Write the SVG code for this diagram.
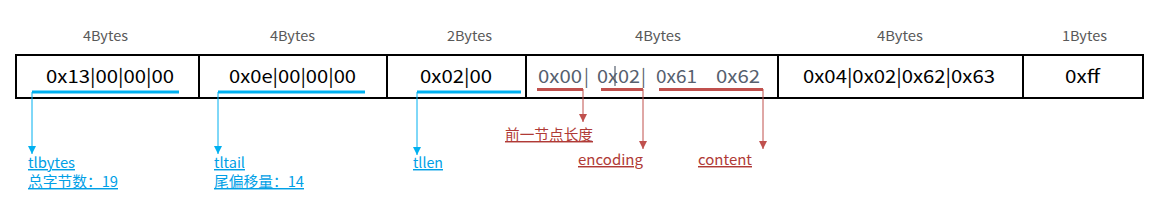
<svg xmlns="http://www.w3.org/2000/svg" width="1165" height="202" viewBox="0 0 1165 202">
<style>
.hdr{font-family:"Noto Sans CJK SC","Noto Sans",sans-serif;font-size:13.5px;fill:#595959}
.cell{font-family:"Noto Sans CJK SC","Noto Sans",sans-serif;font-size:18px;fill:#000}
.gray{font-family:"Noto Sans CJK SC","Noto Sans",sans-serif;font-size:18px;fill:#56606e}
.box{fill:#fff;stroke:#000;stroke-width:2}
.bl{stroke:#00B0F0;stroke-width:3;fill:none}
.rl{stroke:#C0504D;stroke-width:3;fill:none}
.ba{stroke:#00B0F0;stroke-width:1;fill:none}
.ra{stroke:#C0504D;stroke-width:1;fill:none}
.btxt{font-family:"Noto Sans CJK SC","Noto Sans",sans-serif;font-size:14.5px;fill:#00A0E6;text-decoration:underline}
.rtxt{font-family:"Noto Sans CJK SC","Noto Sans",sans-serif;font-size:14.5px;fill:#B03A36;text-decoration:underline}
</style>
<defs>
<marker id="ab" markerUnits="userSpaceOnUse" markerWidth="10" markerHeight="10" refX="8" refY="4" orient="auto"><path d="M0,0 L8,4 L0,8 z" fill="#00B0F0"/></marker>
<marker id="ar" markerUnits="userSpaceOnUse" markerWidth="10" markerHeight="10" refX="8" refY="4" orient="auto"><path d="M0,0 L8,4 L0,8 z" fill="#C0504D"/></marker>
</defs>
<rect width="1165" height="202" fill="#fff"/>
<g id="headers">
<text class="hdr" x="83" y="41" textLength="45" lengthAdjust="spacingAndGlyphs">4Bytes</text>
<text class="hdr" x="270" y="41" textLength="45" lengthAdjust="spacingAndGlyphs">4Bytes</text>
<text class="hdr" x="447" y="41" textLength="45" lengthAdjust="spacingAndGlyphs">2Bytes</text>
<text class="hdr" x="635" y="41" textLength="46" lengthAdjust="spacingAndGlyphs">4Bytes</text>
<text class="hdr" x="877" y="41" textLength="46" lengthAdjust="spacingAndGlyphs">4Bytes</text>
<text class="hdr" x="1062" y="41" textLength="45" lengthAdjust="spacingAndGlyphs">1Bytes</text>
</g>
<g id="tlbytes-cell"><rect class="box" x="16" y="55" width="183" height="43"/><text class="cell" x="46" y="83" textLength="128" lengthAdjust="spacingAndGlyphs">0x13|00|00|00</text></g>
<g id="tltail-cell"><rect class="box" x="199" y="55" width="188" height="43"/><text class="cell" x="229" y="83" textLength="127" lengthAdjust="spacingAndGlyphs">0x0e|00|00|00</text></g>
<g id="tllen-cell"><rect class="box" x="387" y="55" width="139" height="43"/><text class="cell" x="420" y="83" textLength="72" lengthAdjust="spacingAndGlyphs">0x02|00</text></g>
<g id="entry1-cell"><rect class="box" x="526" y="55" width="252" height="43"/>
<text class="gray" x="538" y="83" textLength="44" lengthAdjust="spacingAndGlyphs">0x00</text>
<text class="gray" x="584" y="83">|</text>
<text class="gray" x="597" y="83" textLength="43" lengthAdjust="spacingAndGlyphs">0x02</text>
<line x1="615" y1="66" x2="615" y2="86" stroke="#56606e" stroke-width="1.2"/>
<text class="gray" x="641" y="83">|</text>
<text class="gray" x="656" y="83" textLength="41" lengthAdjust="spacingAndGlyphs">0x61</text>
<text class="gray" x="716" y="83" textLength="44" lengthAdjust="spacingAndGlyphs">0x62</text>
</g>
<g id="entry2-cell"><rect class="box" x="778" y="55" width="245" height="43"/><text class="cell" x="803" y="83" textLength="192" lengthAdjust="spacingAndGlyphs">0x04|0x02|0x62|0x63</text></g>
<g id="end-cell"><rect class="box" x="1023" y="55" width="120" height="43"/><text class="cell" x="1065" y="83" textLength="35" lengthAdjust="spacingAndGlyphs">0xff</text></g>
<g id="connectors">
<path class="bl" d="M32,92 H179"/>
<path class="bl" d="M218,92 H365"/>
<path class="bl" d="M417,92 H521"/>
<path class="ba" d="M32,92 V154" marker-end="url(#ab)"/>
<path class="ba" d="M218,92 V154" marker-end="url(#ab)"/>
<path class="ba" d="M417,92 V155" marker-end="url(#ab)"/>
<path class="rl" d="M537,89.5 H583"/>
<path class="rl" d="M601,89.5 H643"/>
<path class="rl" d="M659,89.5 H763"/>
<path class="ra" d="M583,89 V122" marker-end="url(#ar)"/>
<path class="ra" d="M643,89 V149" marker-end="url(#ar)"/>
<path class="ra" d="M763,89 V149" marker-end="url(#ar)"/>
</g>
<g id="label-tlbytes"><text class="btxt" x="28" y="168" textLength="47" lengthAdjust="spacingAndGlyphs">tlbytes</text><text class="btxt" x="28" y="187" textLength="90" lengthAdjust="spacingAndGlyphs">总字节数：19</text></g>
<g id="label-tltail"><text class="btxt" x="214" y="168" textLength="31" lengthAdjust="spacingAndGlyphs">tltail</text><text class="btxt" x="214" y="187" textLength="90" lengthAdjust="spacingAndGlyphs">尾偏移量：14</text></g>
<g id="label-tllen"><text class="btxt" x="413" y="168" textLength="30" lengthAdjust="spacingAndGlyphs">tllen</text></g>
<g id="label-prevlen"><text class="rtxt" x="505" y="140" textLength="88" lengthAdjust="spacingAndGlyphs">前一节点长度</text></g>
<g id="label-encoding"><text class="rtxt" x="578" y="165" textLength="65" lengthAdjust="spacingAndGlyphs">encoding</text></g>
<g id="label-content"><text class="rtxt" x="698" y="165" textLength="54" lengthAdjust="spacingAndGlyphs">content</text></g>
</svg>
